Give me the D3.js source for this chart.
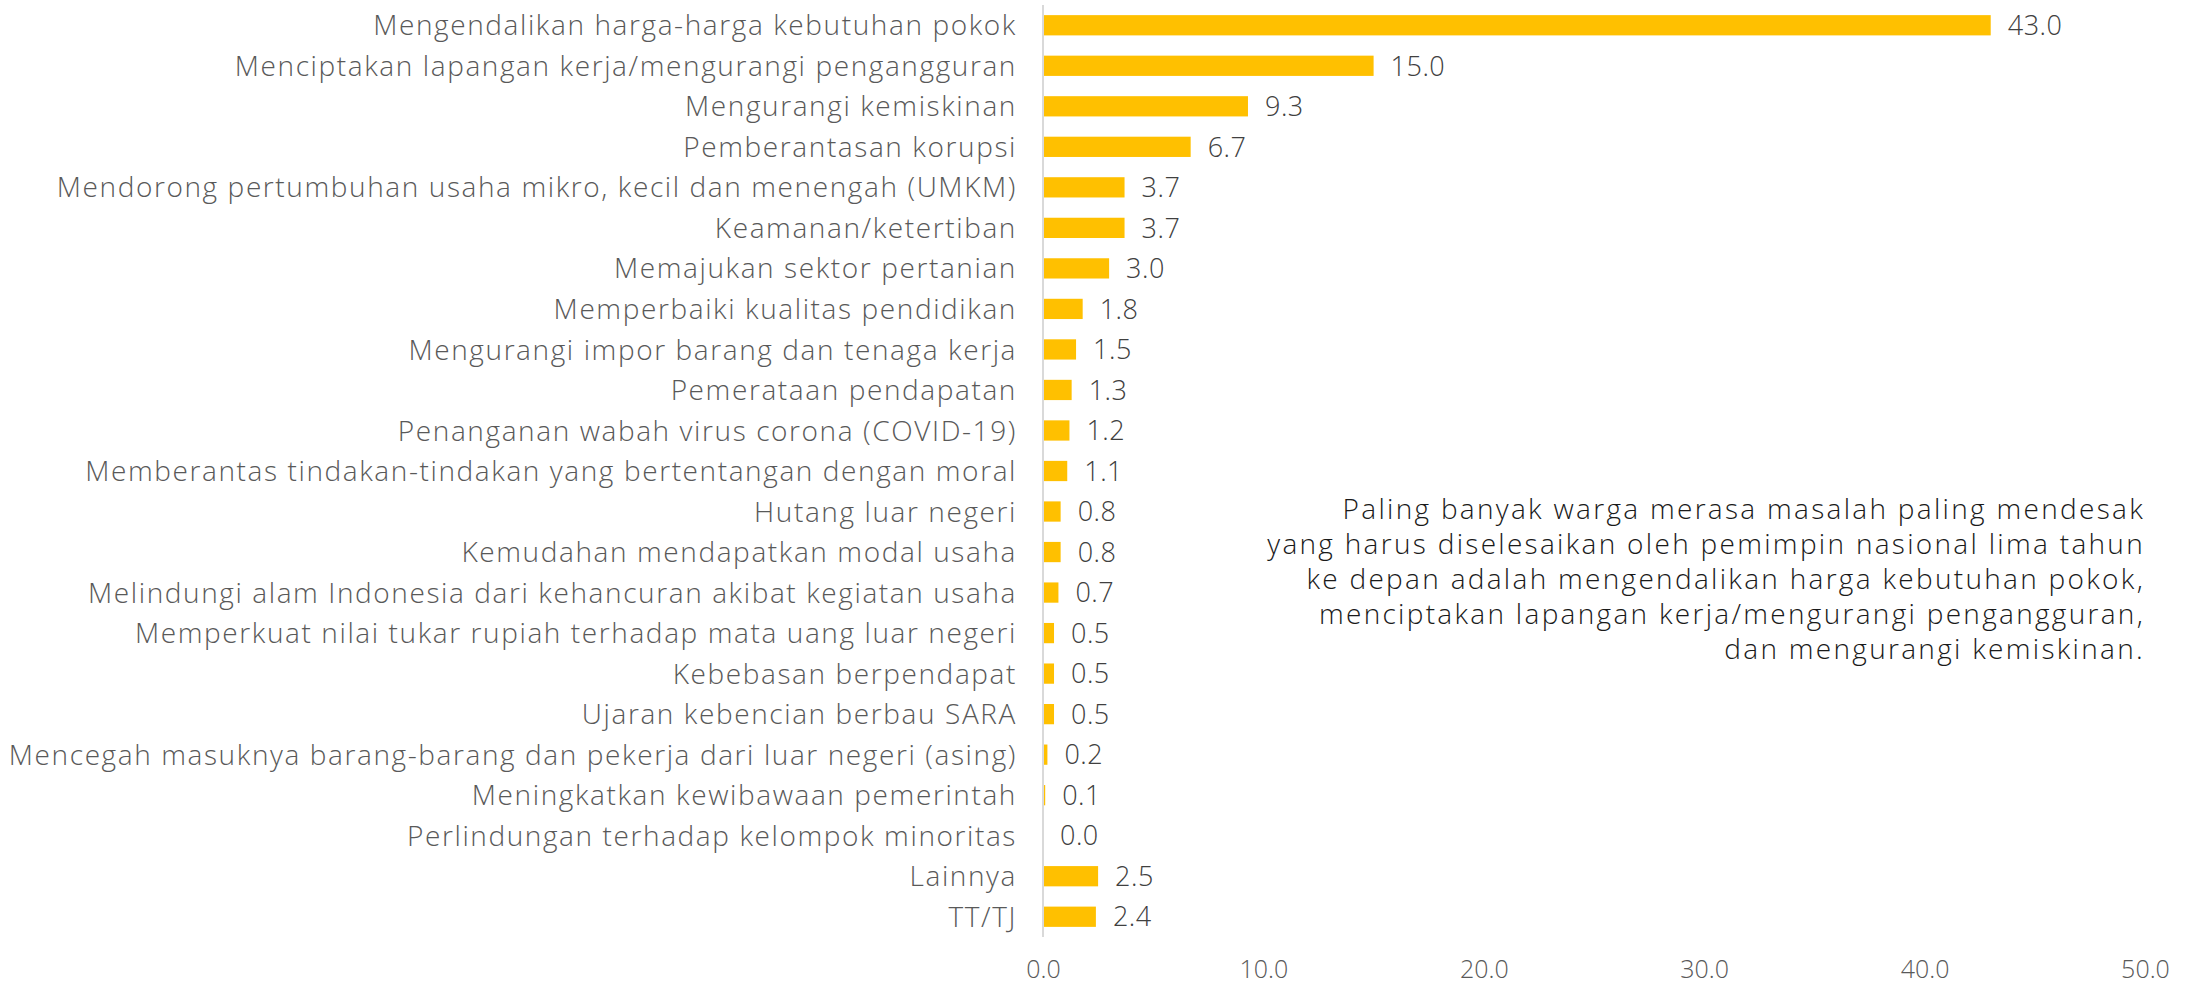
<!DOCTYPE html>
<html>
<head>
<meta charset="utf-8">
<script src="https://cdn.jsdelivr.net/npm/d3@7"></script>
<style>
  html, body { margin: 0; padding: 0; background: #fff; }
  svg { display: block; }
  text { font-family: "Open Sans", "Noto Sans", sans-serif; font-weight: 300; }
</style>
</head>
<body>
<svg id="chart" width="2195" height="984"></svg>
<script>
const categories = [
  "Mengendalikan harga-harga kebutuhan pokok",
  "Menciptakan lapangan kerja/mengurangi pengangguran",
  "Mengurangi kemiskinan",
  "Pemberantasan korupsi",
  "Mendorong pertumbuhan usaha mikro, kecil dan menengah (UMKM)",
  "Keamanan/ketertiban",
  "Memajukan sektor pertanian",
  "Memperbaiki kualitas pendidikan",
  "Mengurangi impor barang dan tenaga kerja",
  "Pemerataan pendapatan",
  "Penanganan wabah virus corona (COVID-19)",
  "Memberantas tindakan-tindakan yang bertentangan dengan moral",
  "Hutang luar negeri",
  "Kemudahan mendapatkan modal usaha",
  "Melindungi alam Indonesia dari kehancuran akibat kegiatan usaha",
  "Memperkuat nilai tukar rupiah terhadap mata uang luar negeri",
  "Kebebasan berpendapat",
  "Ujaran kebencian berbau SARA",
  "Mencegah masuknya barang-barang dan pekerja dari luar negeri (asing)",
  "Meningkatkan kewibawaan pemerintah",
  "Perlindungan terhadap kelompok minoritas",
  "Lainnya",
  "TT/TJ"
];
const values = [43.0, 15.0, 9.3, 6.7, 3.7, 3.7, 3.0, 1.8, 1.5, 1.3, 1.2, 1.1, 0.8, 0.8, 0.7, 0.5, 0.5, 0.5, 0.2, 0.1, 0.0, 2.5, 2.4];
const xTicks = [0, 10, 20, 30, 40, 50];
const annotationLines = [
  "Paling banyak warga merasa masalah paling mendesak",
  "yang harus diselesaikan oleh pemimpin nasional lima tahun",
  "ke depan adalah mengendalikan harga kebutuhan pokok,",
  "menciptakan lapangan kerja/mengurangi pengangguran,",
  "dan mengurangi kemiskinan."
];

const svg = d3.select("#chart");
const x0 = 1043, x1 = 2145;
const x = d3.scaleLinear().domain([0, 50]).range([x0, x1]);
const y = d3.scaleBand().domain(categories).range([5, 937]).paddingInner(0.5).paddingOuter(0.25);

const data = categories.map((c, i) => ({ c, v: values[i] }));

// bars
svg.append("g").selectAll("rect").data(data).join("rect")
  .attr("x", x(0))
  .attr("y", d => y(d.c))
  .attr("width", d => x(d.v) - x(0))
  .attr("height", y.bandwidth())
  .attr("fill", "#FFC000");

// axis line
svg.append("line")
  .attr("x1", x0).attr("x2", x0)
  .attr("y1", 5).attr("y2", 937)
  .attr("stroke", "#d9d9d9").attr("stroke-width", 2);

// category labels
svg.append("g").selectAll("text").data(data).join("text")
  .attr("x", 1017)
  .attr("y", d => y(d.c) + y.bandwidth() / 2)
  .attr("dy", "0.36em")
  .attr("text-anchor", "end")
  .attr("font-size", 28)
  .attr("letter-spacing", "1.6px")
  .attr("fill", "#595959")
  .text(d => d.c);

// value labels
svg.append("g").selectAll("text").data(data).join("text")
  .attr("x", d => x(d.v) + 17)
  .attr("y", d => y(d.c) + y.bandwidth() / 2)
  .attr("dy", "0.36em")
  .attr("font-size", 27)
  .attr("letter-spacing", "0.5px")
  .attr("fill", "#404040")
  .text(d => d.v.toFixed(1));

// x axis tick labels
const xAxis = d3.axisBottom(x).tickValues(xTicks).tickFormat(d3.format(".1f")).tickSize(0).tickPadding(0);
const gx = svg.append("g").attr("transform", "translate(0,960)").call(xAxis);
gx.select(".domain").remove();
gx.selectAll("text")
  .attr("font-size", 25)
  .attr("font-family", "Open Sans, sans-serif")
  .attr("fill", "#595959")
  .attr("dy", "0.71em");

// annotation
svg.append("g").selectAll("text").data(annotationLines).join("text")
  .attr("x", 2145)
  .attr("y", (d, i) => 519 + i * 35)
  .attr("text-anchor", "end")
  .attr("font-size", 28)
  .attr("letter-spacing", "2.3px")
  .attr("fill", "#1a1a1a")
  .text(d => d);
</script>
</body>
</html>
